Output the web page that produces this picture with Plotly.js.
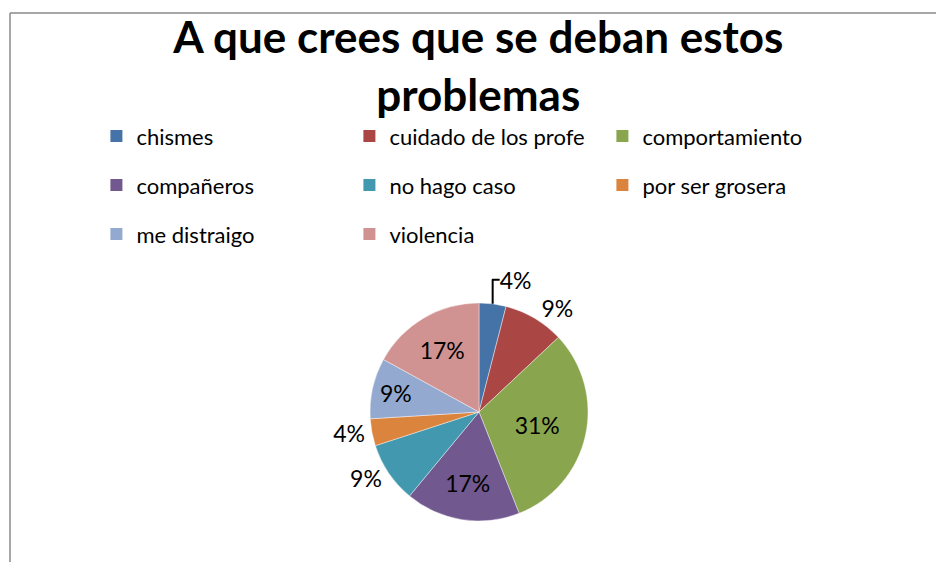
<!DOCTYPE html>
<html>
<head>
<meta charset="utf-8">
<script src="https://cdn.plot.ly/plotly-3.0.1.min.js"></script>
<style>html,body{margin:0;padding:0;background:#fff;}#chart{width:936px;height:562px;}</style>
</head>
<body>
<div id="chart"></div>
<script>
const categories = ["chismes","cuidado de los profe","comportamiento","compañeros","no hago caso","por ser grosera","me distraigo","violencia"];
const values = [4, 9, 31, 17, 9, 4, 9, 17];
const colors = ["#4572A7","#AA4643","#89A54E","#71588F","#4198AF","#DB843D","#93A9CF","#D19392"];
const labelPositions = ["outside","outside","inside","inside","outside","outside","inside","inside"];
const legendRows = ["legend","legend","legend","legend2","legend2","legend2","legend3","legend3"];

const FONT = "Lato, 'Open Sans', sans-serif";

const pie = {
  type: "pie",
  labels: categories,
  values: values,
  sort: false,
  direction: "clockwise",
  rotation: 0,
  texttemplate: "%{percent:.0%}",
  textposition: labelPositions,
  insidetextorientation: "horizontal",
  textfont: {family: FONT, size: 23, color: "#000"},
  marker: {colors: colors, line: {color: "rgba(255,255,255,0.6)", width: 0.7}},
  domain: {x: [0.3953, 0.6282], y: [0.073, 0.4609]},
  showlegend: false,
  hoverinfo: "label+percent"
};

// legend entries (one per category, laid out in three rows like the reference)
const legendTraces = categories.map((c, i) => ({
  type: "scatter",
  mode: "markers",
  x: [null], y: [null],
  name: c,
  legend: legendRows[i],
  marker: {symbol: "square", size: 12, color: colors[i]},
  hoverinfo: "skip"
}));

const legendBase = {
  orientation: "h",
  x: 0.103, xanchor: "left",
  yanchor: "top",
  entrywidth: 208,
  entrywidthmode: "pixels",
  font: {family: FONT, size: 22, color: "#000"},
  traceorder: "normal",
  bgcolor: "rgba(0,0,0,0)"
};

const layout = {
  width: 936, height: 562,
  margin: {l: 0, r: 0, t: 0, b: 0},
  paper_bgcolor: "#fff",
  plot_bgcolor: "rgba(0,0,0,0)",
  font: {family: FONT, color: "#000"},
  title: {
    text: "A que crees que se deban estos<br>problemas",
    font: {family: FONT, size: 44, color: "#000", weight: "bold"},
    x: 0.511, xanchor: "center", y: 0.905, yanchor: "top", yref: "container"
  },
  xaxis: {visible: false, showgrid: false, zeroline: false},
  yaxis: {visible: false, showgrid: false, zeroline: false},
  showlegend: true,
  legend: Object.assign({}, legendBase, {y: 0.795}),
  legend2: Object.assign({}, legendBase, {y: 0.795 - 49/562}),
  legend3: Object.assign({}, legendBase, {y: 0.795 - 98/562}),
  shapes: [
    {type: "line", xref: "paper", yref: "paper", x0: 10/936, x1: 1, y0: 1 - 13/562, y1: 1 - 13/562, line: {color: "#8a8a8a", width: 1.5}},
    {type: "line", xref: "paper", yref: "paper", x0: 10/936, x1: 10/936, y0: 0, y1: 1 - 13/562, line: {color: "#8a8a8a", width: 1.5}}
  ]
};

Plotly.newPlot("chart", [pie].concat(legendTraces), layout, {displayModeBar: false, staticPlot: true});
</script>
</body>
</html>
